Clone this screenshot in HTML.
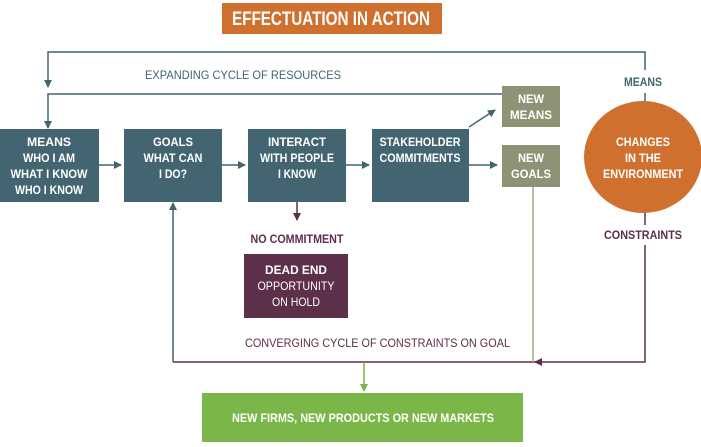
<!DOCTYPE html>
<html><head><style>
body{margin:0;background:#fff;}
svg text{font-family:"Liberation Sans",sans-serif;font-weight:bold;}
</style></head><body>
<svg width="701" height="442" viewBox="0 0 701 442" xmlns="http://www.w3.org/2000/svg">
<defs>
<marker id="aT" markerWidth="8" markerHeight="8" refX="7" refY="4" orient="auto" markerUnits="userSpaceOnUse"><path d="M0,0L8,4L0,8z" fill="#426571"/></marker>
<marker id="aP" markerWidth="8" markerHeight="8" refX="7" refY="4" orient="auto" markerUnits="userSpaceOnUse"><path d="M0,0L8,4L0,8z" fill="#5c2f4b"/></marker>
<marker id="aG" markerWidth="8" markerHeight="8" refX="7" refY="4" orient="auto" markerUnits="userSpaceOnUse"><path d="M0,0L8,4L0,8z" fill="#7ab648"/></marker>
</defs>
<rect x="222" y="3" width="220" height="31" fill="#d0702e"/>
<text x="232" y="25" font-size="19" fill="#fff" textLength="198" lengthAdjust="spacingAndGlyphs">EFFECTUATION IN ACTION</text>

<g stroke="#426571" stroke-width="1.5" fill="none">
<polyline points="645,70 645,52 48,52 48,87" marker-end="url(#aT)"/>
<polyline points="502,94 48,94 48,128" marker-end="url(#aT)"/>
<line x1="645" y1="93" x2="645" y2="102"/>
<line x1="99" y1="165" x2="121" y2="165" marker-end="url(#aT)"/>
<line x1="222" y1="165" x2="245" y2="165" marker-end="url(#aT)"/>
<line x1="346" y1="165" x2="369" y2="165" marker-end="url(#aT)"/>
<line x1="469" y1="165" x2="497" y2="165" marker-end="url(#aT)"/>
<line x1="469" y1="127" x2="495" y2="110" marker-end="url(#aT)"/>
<polyline points="173,362 173,203" marker-end="url(#aT)"/>
</g>
<g stroke="#5c2f4b" stroke-width="1.5" fill="none">
<line x1="297" y1="202" x2="297" y2="220" marker-end="url(#aP)"/>
<line x1="645" y1="212" x2="645" y2="225"/>
<polyline points="645,245 645,362 535,362" marker-end="url(#aP)"/>
<line x1="173" y1="362" x2="535" y2="362"/>
</g>
<line x1="533" y1="187" x2="533" y2="362" stroke="#a9a88a" stroke-width="1.5"/>
<line x1="364" y1="362" x2="364" y2="391" stroke="#7ab648" stroke-width="1.5" marker-end="url(#aG)"/>

<g fill="#426571">
<rect x="0" y="129" width="99" height="73"/>
<rect x="124" y="129" width="98" height="73"/>
<rect x="248" y="129" width="98" height="73"/>
<rect x="372" y="129" width="97" height="73"/>
</g>
<g font-size="12" fill="#fff" text-anchor="middle">
<text x="49" y="146" textLength="44" lengthAdjust="spacingAndGlyphs">MEANS</text><text x="49" y="162" textLength="52" lengthAdjust="spacingAndGlyphs">WHO I AM</text><text x="49" y="178" textLength="77" lengthAdjust="spacingAndGlyphs">WHAT I KNOW</text><text x="49" y="194" textLength="68" lengthAdjust="spacingAndGlyphs">WHO I KNOW</text>
<text x="173" y="146" textLength="40" lengthAdjust="spacingAndGlyphs">GOALS</text><text x="173" y="162" textLength="59" lengthAdjust="spacingAndGlyphs">WHAT CAN</text><text x="173" y="178" textLength="28" lengthAdjust="spacingAndGlyphs">I DO?</text>
<text x="297" y="146" textLength="58" lengthAdjust="spacingAndGlyphs">INTERACT</text><text x="297" y="162" textLength="74" lengthAdjust="spacingAndGlyphs">WITH PEOPLE</text><text x="297" y="178" textLength="38" lengthAdjust="spacingAndGlyphs">I KNOW</text>
<text x="420" y="146" textLength="81" lengthAdjust="spacingAndGlyphs">STAKEHOLDER</text><text x="420" y="162" textLength="81" lengthAdjust="spacingAndGlyphs">COMMITMENTS</text>
</g>
<rect x="502" y="86" width="58" height="41" fill="#8f9274"/>
<rect x="502" y="145" width="58" height="42" fill="#8f9274"/>
<g font-size="12" fill="#fff" text-anchor="middle">
<text x="531" y="103" textLength="26" lengthAdjust="spacingAndGlyphs">NEW</text><text x="531" y="119" textLength="42" lengthAdjust="spacingAndGlyphs">MEANS</text>
<text x="531" y="162" textLength="26" lengthAdjust="spacingAndGlyphs">NEW</text><text x="531" y="178" textLength="40" lengthAdjust="spacingAndGlyphs">GOALS</text>
</g>
<ellipse cx="643" cy="157" rx="59" ry="56" fill="#d0702e"/>
<g font-size="12" fill="#fff" text-anchor="middle">
<text x="643" y="146" textLength="54" lengthAdjust="spacingAndGlyphs">CHANGES</text><text x="643" y="162" textLength="36" lengthAdjust="spacingAndGlyphs">IN THE</text><text x="643" y="178" textLength="80" lengthAdjust="spacingAndGlyphs">ENVIRONMENT</text>
</g>
<text x="643" y="86" font-size="12" fill="#426571" text-anchor="middle" textLength="38" lengthAdjust="spacingAndGlyphs">MEANS</text>
<text x="145" y="79" font-size="12" fill="#426571" textLength="196" lengthAdjust="spacingAndGlyphs" style="font-weight:normal">EXPANDING CYCLE OF RESOURCES</text>
<text x="643" y="239" font-size="12" fill="#5c2f4b" text-anchor="middle" textLength="78" lengthAdjust="spacingAndGlyphs">CONSTRAINTS</text>
<text x="297" y="243" font-size="12" fill="#5c2f4b" text-anchor="middle" textLength="93" lengthAdjust="spacingAndGlyphs">NO COMMITMENT</text>
<rect x="244" y="254" width="104" height="64" fill="#5c2f4b"/>
<g font-size="12" fill="#fff" text-anchor="middle">
<text x="296" y="274" textLength="62" lengthAdjust="spacingAndGlyphs">DEAD END</text>
<text x="296" y="290" textLength="77" lengthAdjust="spacingAndGlyphs" style="font-weight:normal">OPPORTUNITY</text>
<text x="296" y="306" textLength="48" lengthAdjust="spacingAndGlyphs" style="font-weight:normal">ON HOLD</text>
</g>
<text x="245" y="347" font-size="12" fill="#5c2f4b" textLength="265" lengthAdjust="spacingAndGlyphs" style="font-weight:normal">CONVERGING CYCLE OF CONSTRAINTS ON GOAL</text>
<rect x="202" y="393" width="321" height="49" fill="#7ab648"/>
<text x="232" y="422" font-size="12" fill="#fff" textLength="262" lengthAdjust="spacingAndGlyphs">NEW FIRMS, NEW PRODUCTS OR NEW MARKETS</text>
</svg>
</body></html>
